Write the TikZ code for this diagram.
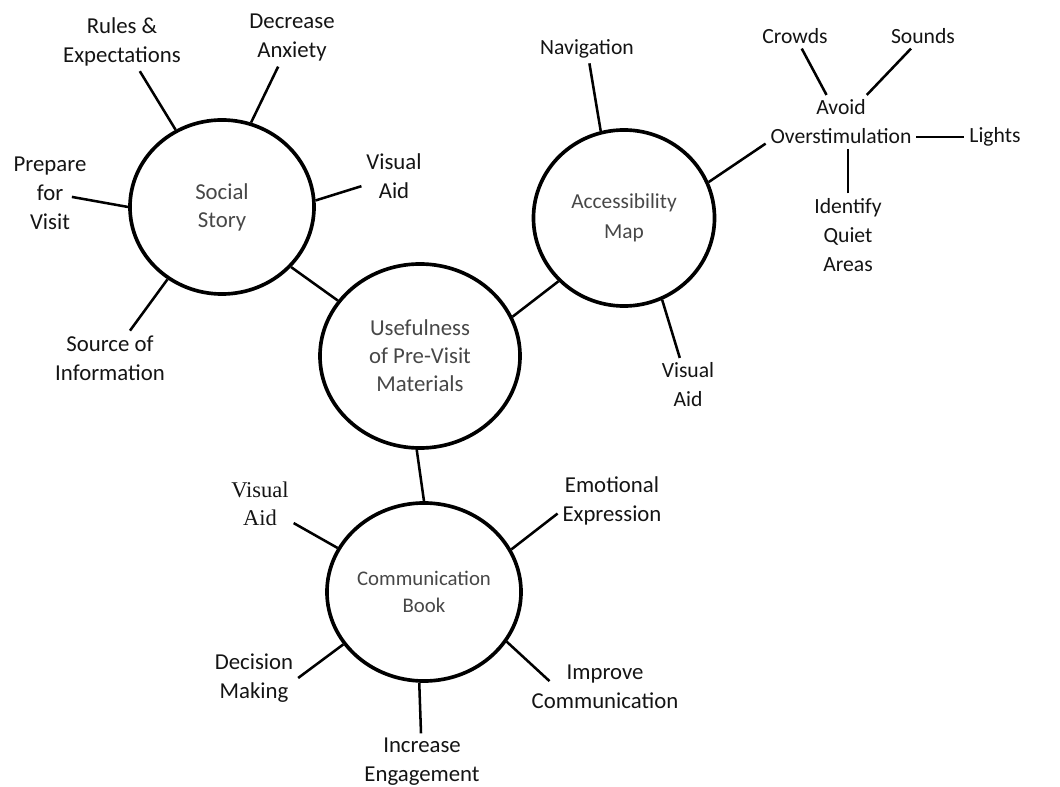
\documentclass[tikz,border=0pt]{standalone}
\usepackage{fontspec}
\setmainfont{Carlito}
\newfontfamily\timesfont{Liberation Serif}
\usetikzlibrary{shapes.geometric}

\tikzset{
  bubble/.style={ellipse, draw, line width=2.6pt, inner sep=0pt, align=center,
    text=black!72, font=\fontsize{16.2}{20}\selectfont},
  leaf/.style={align=center, text=black!92, font=\fontsize{16.2}{20.6}\selectfont},
  small/.style={font=\fontsize{15.4}{20.6}\selectfont},
  spoke/.style={line width=1.8pt}
}

\begin{document}
\begin{tikzpicture}[x=0.025cm, y=-0.025cm]
    \useasboundingbox (0,0) rectangle (1060,787);

    % the four bubbles
    \node[bubble, minimum width=4.6cm, minimum height=4.35cm] (social) at (222,207) {Social\\Story};
    \node[bubble, minimum width=5cm, minimum height=4.6cm] (hub) at (420,356) {Usefulness\\of Pre-Visit\\Materials};
    \node[bubble, minimum width=4.525cm, minimum height=4.4cm, font=\fontsize{15.2}{21}\selectfont] (access) at (624,218) {Accessibility\\Map};
    \node[bubble, minimum width=4.85cm, minimum height=4.45cm, font=\fontsize{14.8}{18.8}\selectfont] (comm) at (424,592) {Communication\\Book};

    % labels round the bubbles
    \node[leaf] (rules) at (122,42) {Rules \&\\Expectations};
    \node[leaf] (anxiety) at (292,38) {Decrease\\Anxiety};
    \node[leaf] (prepare) at (50,193) {Prepare\\for\\Visit};
    \node[leaf] (visS) at (394,176) {Visual\\Aid};
    \node[leaf] (source) at (110,358) {Source of\\Information};

    \node[leaf, small] (nav) at (587,49) {Navigation};
    \node[leaf, small] (avoid) at (841,122) {Avoid\\Overstimulation};
    \node[leaf, small] (crowds) at (795,36) {Crowds};
    \node[leaf, small] (sounds) at (923,36) {Sounds};
    \node[leaf, small] (lights) at (995,137) {Lights};
    \node[leaf, small] (quiet) at (848,235) {Identify\\Quiet\\Areas};
    \node[leaf, small] (visA) at (688,385) {Visual\\Aid};

    \node[leaf, font=\timesfont\fontsize{16}{19.5}\selectfont] (visC) at (260,504) {Visual\\Aid};
    \node[leaf] (emo) at (612,501) {Emotional\\Expression};
    \node[leaf] (decision) at (254,678) {Decision\\Making};
    \node[leaf] (improve) at (605,687) {Improve\\Communication};
    \node[leaf] (increase) at (422,762) {Increase\\Engagement};

    % links between bubbles
    \draw[spoke] (hub.146) -- (social.319);
    \draw[spoke] (hub.23) -- (access.224);
    \draw[spoke] (hub.268) -- (comm.90);

    \draw[spoke] (social.121) -- (rules);
    \draw[spoke] (social.71) -- (anxiety);
    \draw[spoke] (social.4) -- (visS);
    \draw[spoke, shorten >=-14pt] (social.180) -- (prepare);
    \draw[spoke] (social.233) -- (source);

    \draw[spoke] (access.105) -- (nav);
    \draw[spoke] (access.23) -- (avoid.196);
    \draw[spoke] (access.295) -- (visA);
    \draw[spoke] (avoid) -- (crowds);
    \draw[spoke] (avoid) -- (sounds);
    \draw[spoke] (avoid.east |- lights) -- (lights);
    \draw[spoke] (quiet.north) -- (quiet.north |- avoid.south);

    \draw[spoke] (comm.153) -- (visC);
    \draw[spoke] (comm.26) -- (emo.193);
    \draw[spoke] (comm.213) -- (decision.east);
    \draw[spoke, shorten >=-22pt] (comm.329) -- (improve.north west);
    \draw[spoke] (comm.267) -- (increase);
\end{tikzpicture}
\end{document}
